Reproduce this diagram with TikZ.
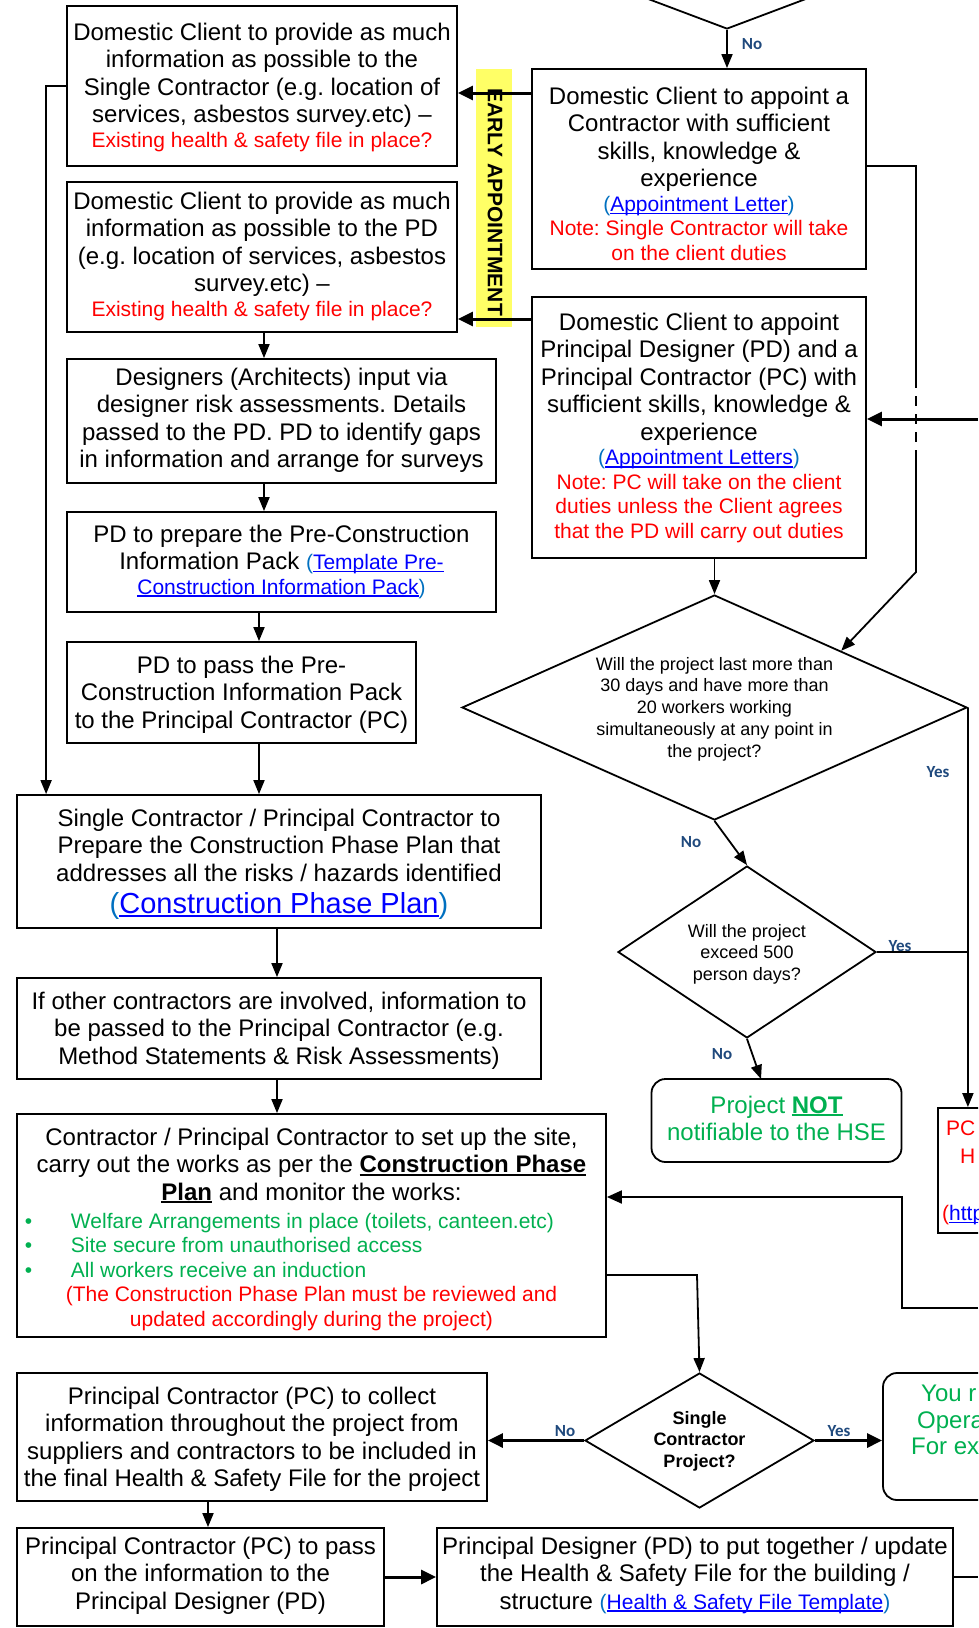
\documentclass[tikz,border=0pt]{standalone}
\usepackage{fontspec}
\setmainfont{Liberation Sans}
\newfontfamily\lblfont{Carlito}
\usetikzlibrary{shapes.geometric,arrows.meta}
\definecolor{nred}{HTML}{FF0000}
\definecolor{ngreen}{HTML}{00B050}
\definecolor{lblue}{HTML}{0000FF}
\definecolor{pblue}{HTML}{0070C0}
\definecolor{lbl}{HTML}{1F497D}
\definecolor{band}{HTML}{FFFF66}
\frenchspacing
\setlength{\parindent}{0pt}
\newcommand\fx{\spaceskip=\fontdimen2\font\relax\xspaceskip=\fontdimen2\font\relax}
\newcommand\fm{\fontsize{24bp}{27.6bp}\selectfont\fx}
\newcommand\fn{\fontsize{21bp}{24.5bp}\selectfont\fx}
\newcommand\fd{\fontsize{18bp}{21.7bp}\selectfont\fx}
\newcommand\ulk[1]{\leavevmode\setbox0\hbox{#1}\rlap{\color{lblue}\rule[-0.12em]{\wd0}{0.065em}}\textcolor{lblue}{#1}}
\newcommand\ubk[1]{\leavevmode\setbox0\hbox{#1}\rlap{\rule[-0.12em]{\wd0}{0.08em}}#1}
\newcommand\pp[1]{\textcolor{pblue}{#1}}
\newcommand\rd{\leavevmode\color{nred}}
\newcommand\gr{\leavevmode\color{ngreen}}
\newcommand\bul{\hspace*{8bp}\makebox[46bp][l]{\textbullet}}
\begin{document}
\begin{tikzpicture}[x=1bp,y=-1bp,
  boxs/.style={draw, line width=1.8bp, rectangle, inner sep=0pt},
  gbox/.style={draw, rounded corners=14bp, line width=1.8bp, rectangle, inner sep=0pt},
  dia/.style={draw, diamond, line width=1.8bp, inner sep=0pt},
  txt/.style={align=center, text width=700bp, inner sep=0pt, anchor=north},
  conn/.style={line width=1.8bp, -{Triangle[length=14bp,width=11bp]}},
  tconn/.style={line width=3bp, -{Triangle[length=15bp,width=14bp]}},
  plain/.style={line width=1.8bp},
  lab/.style={font=\lblfont\bfseries\fontsize{17bp}{20bp}\selectfont, text=lbl, inner sep=0pt}]
\useasboundingbox (0,0) rectangle (978,1628);
\clip (0,0) rectangle (978,1628);
\fill[white] (0,0) rectangle (978,1628);
% band
\fill[band] (476,69) rectangle (512,327);
% boxes
\node[boxs,minimum width=390bp,minimum height=160bp] (b1) at (262,86) {};
\node[txt] (b1t) at (262,22.5) {{\fm Domestic Client to provide as much\\information as possible to the\\Single Contractor (e.g. location of\\services, asbestos survey.etc) –\par}{\fn\rd Existing health \& safety file in place?\par}};
\node[boxs,minimum width=390bp,minimum height=150bp] (b2) at (262,257) {};
\node[txt] (b2t) at (262,191.5) {{\fm Domestic Client to provide as much\\information as possible to the PD\\(e.g. location of services, asbestos\\survey.etc) –\par}{\fn\rd Existing health \& safety file in place?\par}};
\node[boxs,minimum width=334bp,minimum height=200bp] (r1) at (699,169) {};
\node[txt] (r1t) at (699,86.5) {{\fm Domestic Client to appoint a\\Contractor with sufficient\\skills, knowledge \&\\experience\par}{\fn\pp{(}\ulk{Appointment Letter}\pp{)}\\\rd Note: Single Contractor will take\\on the client duties\par}};
\node[boxs,minimum width=334bp,minimum height=261bp] (r2) at (699,427.5) {};
\node[txt] (r2t) at (699,312.5) {{\fm Domestic Client to appoint\\Principal Designer (PD) and a\\Principal Contractor (PC) with\\sufficient skills, knowledge \&\\experience\par}{\fn\pp{(}\ulk{Appointment Letters}\pp{)}\\\rd Note: PC will take on the client\\duties unless the Client agrees\\that the PD will carry out duties\par}};
\node[boxs,minimum width=429bp,minimum height=124bp] (d) at (281.5,421) {};
\node[txt] (dt) at (281.5,367.5) {{\fm Designers (Architects) input via\\designer risk assessments. Details\\passed to the PD. PD to identify gaps\\in information and arrange for surveys\par}};
\node[boxs,minimum width=429bp,minimum height=100bp] (prep) at (281.5,562) {};
\node[txt] (prept) at (281.5,524.5) {{\fm PD to prepare the Pre-Construction\\Information Pack {\fn\pp{(}\ulk{Template Pre-}}\par}{\fn\ulk{Construction Information Pack}\pp{)}\par}};
\node[boxs,minimum width=349bp,minimum height=101bp] (pass) at (241.5,692.5) {};
\node[txt] (passt) at (241.5,655.5) {{\fm PD to pass the Pre-\\Construction Information Pack\\to the Principal Contractor (PC)\par}};
\node[boxs,minimum width=524bp,minimum height=133bp] (scpc) at (279,861.5) {};
\node[txt] (scpct) at (279,808.5) {{\fm Single Contractor / Principal Contractor to\\Prepare the Construction Phase Plan that\\addresses all the risks / hazards identified\par}{\fontsize{29bp}{32bp}\selectfont\fx\pp{(}\ulk{Construction Phase Plan}\pp{)}\par}};
\node[boxs,minimum width=524bp,minimum height=101bp] (other) at (279,1028.5) {};
\node[txt] (othert) at (279,991.5) {{\fm If other contractors are involved, information to\\be passed to the Principal Contractor (e.g.\\Method Statements \& Risk Assessments)\par}};
\node[boxs,minimum width=589bp,minimum height=223bp] (cont) at (311.5,1225.5) {};
\node[txt,text width=589bp] (contt) at (311.5,1127.5) {{\fm Contractor / Principal Contractor to set up the site,\\carry out the works as per the \textbf{\ubk{Construction Phase}}\\\textbf{\ubk{Plan}} and monitor the works:\par}\vspace{3.5bp}{\raggedright\fn\gr\bul Welfare Arrangements in place (toilets, canteen.etc)\\\bul Site secure from unauthorised access\\\bul All workers receive an induction\par}{\centering\fn\rd (The Construction Phase Plan must be reviewed and\\updated accordingly during the project)\par}};
\node[boxs,minimum width=470bp,minimum height=128bp] (coll) at (252,1437) {};
\node[txt] (collt) at (252,1386.5) {{\fm Principal Contractor (PC) to collect\\information throughout the project from\\suppliers and contractors to be included in\\the final Health \& Safety File for the project\par}};
\node[boxs,minimum width=367bp,minimum height=98bp] (pcp) at (200.5,1577) {};
\node[txt] (pcpt) at (200.5,1536.5) {{\fm Principal Contractor (PC) to pass\\on the information to the\\Principal Designer (PD)\par}};
\node[boxs,minimum width=516bp,minimum height=98bp] (pd) at (695,1577) {};
\node[txt] (pdt) at (695,1536.5) {{\fm Principal Designer (PD) to put together / update\\the Health \& Safety File for the building /\\structure {\fn\pp{(}\ulk{Health \& Safety File Template}\pp{)}}\par}};
% right cut boxes
\node[boxs,minimum width=120bp,minimum height=125bp] (pcR) at (998,1170.5) {};
\node[anchor=north west,inner sep=0pt,font=\fn,text=nred] (pcR1) at (946,1121) {PC};
\node[anchor=north west,inner sep=0pt,font=\fn,text=nred] (pcR2) at (960,1149) {H};
\node[anchor=north west,inner sep=0pt,font=\fn] (pcR3) at (942,1205) {\textcolor{nred}{(}\ulk{http}};
\node[gbox,minimum width=150bp,minimum height=127bp] (gR) at (958,1436.5) {};
\node[anchor=north west,inner sep=0pt,font=\fm,text=ngreen] (gR1) at (921,1384.5) {You r};
\node[anchor=north west,inner sep=0pt,font=\fm,text=ngreen] (gR2) at (917,1411.5) {Opera};
\node[anchor=north west,inner sep=0pt,font=\fm,text=ngreen] (gR3) at (911,1437.5) {For ex};
\node[gbox,minimum width=250bp,minimum height=83bp] (gnot) at (776.5,1120.5) {};
\node[txt] (gnott) at (776.5,1095.5) {{\fm\gr Project \textbf{\ubk{NOT}}\\notifiable to the HSE\par}};
% diamonds
\node[dia,minimum width=578bp,minimum height=218bp] (dtop) at (727,-80) {};
\node[dia,minimum width=505bp,minimum height=225bp] (dbig) at (714.5,707.5) {};
\node[txt] (dbigt) at (714.5,657) {{\fd Will the project last more than\\30 days and have more than\\20 workers working\\simultaneously at any point in\\the project?\par}};
\node[dia,minimum width=258bp,minimum height=172bp] (dsm) at (747,952) {};
\node[txt] (dsmt) at (747,924) {{\fd Will the project\\exceed 500\\person days?\par}};
\node[dia,minimum width=229bp,minimum height=135bp] (dsing) at (699.5,1440.5) {};
\node[txt] (dsingt) at (699.5,1411) {{\fd\bfseries Single\\Contractor\\Project?\par}};
% coordinates
\coordinate (c1) at (264,0);
\coordinate (c2) at (259,0);
\coordinate (c3) at (277,0);
\coordinate (c4) at (208,0);
\coordinate (ya) at (0,93);
\coordinate (yb) at (0,319);
\coordinate (rt1) at (916,166);
\coordinate (rt2) at (916,378);
\coordinate (rt3) at (916,458);
\coordinate (rt4) at (916,572);
\coordinate (in1) at (978,419);
\coordinate (rs1) at (978,1308);
\coordinate (rs2) at (902,1308);
\coordinate (rs3) at (902,1197);
\coordinate (cs) at (697,1275);
\coordinate (pe) at (978,1577);
\coordinate (gn) at (761,1079);
% connectors
\draw[tconn] (r1.west |- ya) -- (b1.east |- ya);
\draw[tconn] (r2.west |- yb) -- (b2.east |- yb);
\node[rotate=-90,inner sep=0pt,font=\bfseries\fontsize{21bp}{24bp}\selectfont] (early) at (495,202) {EARLY APPOINTMENT};
\draw[conn] (b1.west) -- ++(-20,0) coordinate (lc) -- (lc |- scpc.north);
\draw[conn] (c1 |- b2.south) -- (c1 |- d.north);
\draw[conn] (c1 |- d.south) -- (c1 |- prep.north);
\draw[conn] (c2 |- prep.south) -- (c2 |- pass.north);
\draw[conn] (c2 |- pass.south) -- (c2 |- scpc.north);
\draw[conn] (c3 |- scpc.south) -- (c3 |- other.north);
\draw[conn] (c3 |- other.south) -- (c3 |- cont.north);
\draw[conn] (dtop.south) -- (dtop.south |- r1.north);
\draw[plain] (rt1 -| r1.east) -- (rt1) -- (rt2);
\draw[plain,dash pattern=on 10bp off 8bp] (rt2) -- (rt3);
\draw[conn] (rt3) -- (rt4) -- (dbig.north east);
\draw[tconn] (in1) -- (in1 -| r2.east);
\draw[conn] (dbig.north |- r2.south) -- (dbig.north);
\draw[conn] (dbig.south) -- (dsm.north);
\draw[conn] (dbig.east) -- (dbig.east |- pcR.north);
\draw[plain] (dsm.east) -- (dsm.east -| dbig.east);
\draw[conn] (dsm.south) -- (gn);
\draw[line width=2bp,-{Triangle[length=15bp,width=13bp]}] (rs1) -- (rs2) -- (rs3) -- (rs3 -| cont.east);
\draw[conn] (cs -| cont.east) -- (cs) -- (dsing.north);
\draw[tconn] (dsing.west) -- (dsing.west -| coll.east);
\draw[tconn] (dsing.east) -- (dsing.east -| gR.west);
\draw[conn] (c4 |- coll.south) -- (c4 |- pcp.north);
\draw[tconn] (pcp.east) -- (pcp.east -| pd.west);
\draw[line width=2.5bp] (pd.east) -- (pe);
% labels
\node[lab] (l1) at (752,44) {No};
\node[lab] (l2) at (691,842) {No};
\node[lab] (l3) at (938,772) {Yes};
\node[lab] (l4) at (900,946) {Yes};
\node[lab] (l5) at (722,1054) {No};
\node[lab] (l6) at (565,1431) {No};
\node[lab] (l7) at (839,1431) {Yes};
\end{tikzpicture}
\end{document}
